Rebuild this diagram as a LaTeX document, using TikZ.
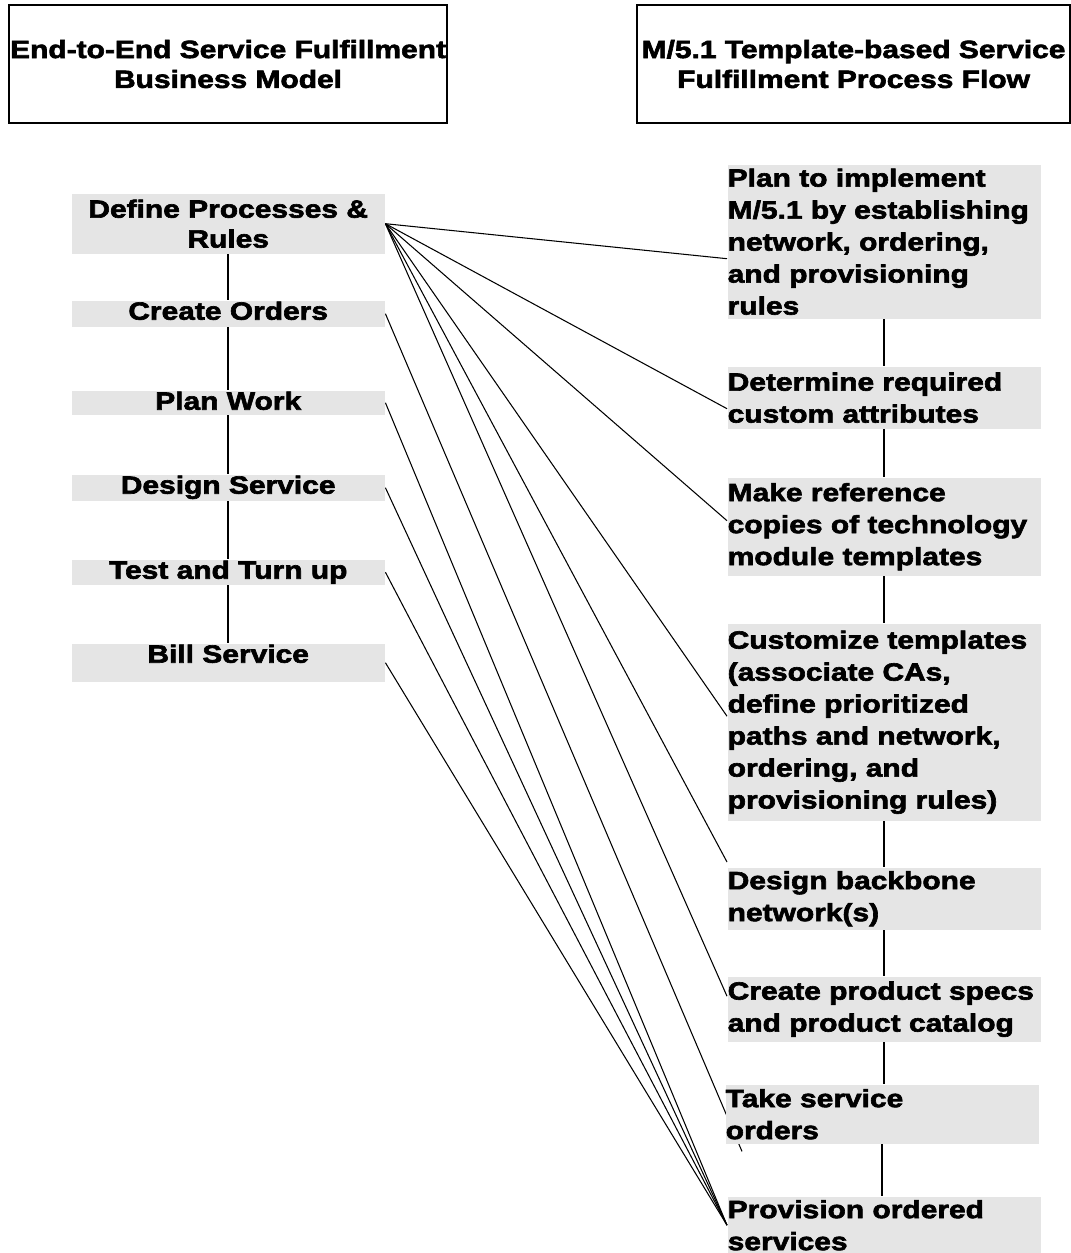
\documentclass[tikz,border=0pt]{standalone}
\usepackage{fontspec}
\newfontface\flowfont{Liberation Sans Bold}[FakeStretch=1.2,FakeBold=2.5]
\usetikzlibrary{backgrounds}
\definecolor{boxgray}{gray}{0.9}

\begin{document}
\begin{tikzpicture}[x=1cm,y=-1cm,
  font=\flowfont\fontsize{7.1pt}{8.5pt}\selectfont,
  title/.style={draw, line width=0.6pt, inner sep=0pt, align=center, anchor=north west, minimum height=1.18cm},
  stage/.style={fill=boxgray, inner sep=0pt, minimum width=3.13cm, align=center, anchor=north west},
  stage line/.style={text height=0.19cm, text depth=#1},
  task/.style={fill=boxgray, inner sep=0pt, text width=3.13cm, align=left, anchor=north west,
    font=\flowfont\fontsize{7.1pt}{9.1pt}\selectfont},
  link/.style={line width=0.6pt},
  map/.style={line width=0.3pt}]
\useasboundingbox (0,0) rectangle (10.70,12.53);

% headings
\node[title, minimum width=4.38cm] (bmodel) at (0.08,0.04) {End-to-End Service Fulfillment\\Business Model};
\node[title, minimum width=4.33cm] (pflow) at (6.36,0.04) {M/5.1 Template-based Service\\Fulfillment Process Flow};

% business model stages
\node[stage, minimum height=0.60cm] (def) at (0.71,1.93) {Define Processes \&\\Rules};
\node[stage, stage line=0.07cm] (ord) at (0.71,3.00) {Create Orders};
\node[stage, stage line=0.05cm] (pw) at (0.71,3.90) {Plan Work};
\node[stage, stage line=0.07cm] (ds) at (0.71,4.74) {Design Service};
\node[stage, stage line=0.06cm] (tt) at (0.71,5.59) {Test and Turn up};
\node[stage, stage line=0.19cm] (bill) at (0.71,6.43) {Bill Service};

% process flow steps
\node[task, minimum height=1.54cm] (p1) at (7.27,1.64) {Plan to implement\\M/5.1 by establishing\\network, ordering,\\and provisioning\\rules};
\node[task, minimum height=0.62cm] (p2) at (7.27,3.66) {Determine required\\custom attributes};
\node[task, minimum height=0.98cm] (p3) at (7.27,4.77) {Make reference\\copies of technology\\module templates};
\node[task, minimum height=1.97cm] (p4) at (7.27,6.23) {Customize templates\\(associate CAs,\\define prioritized\\paths and network,\\ordering, and\\provisioning rules)};
\node[task, minimum height=0.62cm] (p5) at (7.27,8.67) {Design backbone\\network(s)};
\node[task, minimum height=0.65cm] (p6) at (7.27,9.76) {Create product specs\\and product catalog};
\node[task, minimum height=0.59cm] (p7) at (7.25,10.84) {Take service\\orders};
\node[task, minimum height=0.57cm] (p8) at (7.27,11.96) {Provision ordered\\services};

% sequence lines
\foreach \a/\b in {def/ord, ord/pw, pw/ds, ds/tt, tt/bill}
  \draw[link] (\a.south) -- (\a.south |- \b.north);
\foreach \a/\b in {p1/p2, p2/p3, p3/p4, p4/p5, p5/p6, p6/p7, p7/p8}
  \draw[link] (\a.south) -- (\a.south |- \b.north);

% mapping between the two columns
\begin{scope}[on background layer]
\draw[map] (def.east) -- ([yshift=-0.17cm]p1.west);
\draw[map] (def.east) -- ([yshift=-0.11cm]p2.west);
\draw[map] (def.east) -- ([yshift=0.06cm]p3.west);
\draw[map] (def.east) -- ([yshift=0.06cm]p4.west);
\draw[map] (def.east) -- ([yshift=0.05cm]p5.north west);
\draw[map] (def.east) -- ([yshift=0.13cm]p6.west);
\draw[map] (ord.east) -- ([xshift=0.17cm,yshift=-0.07cm]p7.south west);
\foreach \s in {pw, ds, tt, bill}
  \draw[map] (\s.east) -- (p8.west);
\end{scope}

\end{tikzpicture}
\end{document}
